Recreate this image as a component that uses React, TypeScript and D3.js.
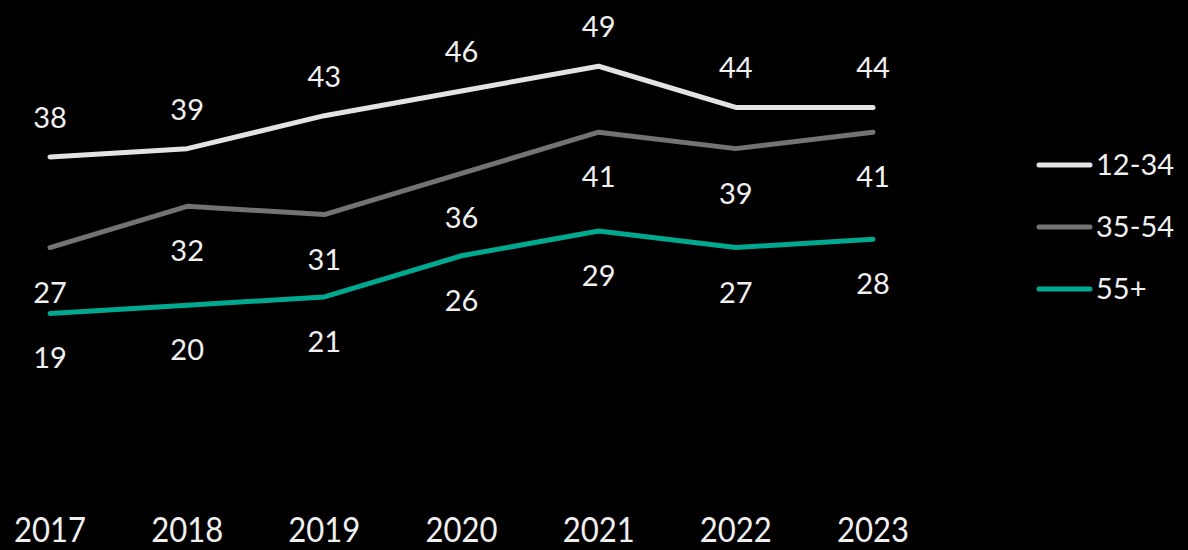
import { scalePoint, scaleLinear, line } from "d3";

const years = ["2017", "2018", "2019", "2020", "2021", "2022", "2023"];
const young = [38, 39, 43, 46, 49, 44, 44];
const middle = [27, 32, 31, 36, 41, 39, 41];
const older = [19, 20, 21, 26, 29, 27, 28];
const seriesNames = ["12-34", "35-54", "55+"];

const width = 1188;
const height = 550;
const font = "Lato, 'Open Sans', sans-serif";

const series = [
  { name: seriesNames[0], values: young, color: "#e3e3e3", dy: -29 },
  { name: seriesNames[1], values: middle, color: "#737373", dy: 55 },
  { name: seriesNames[2], values: older, color: "#00a890", dy: 55 },
];

const App = () => {
  const x = scalePoint().domain(years).range([50, 873]);
  const y = scaleLinear().domain([0, 50]).range([470, 58]);

  const path = line<number>()
    .x((_, i) => x(years[i])!)
    .y((d) => y(d));

  return (
    <svg
      width={width}
      height={height}
      style={{ position: "absolute", left: 0, top: 0, background: "#000" }}
    >
      <rect width={width} height={height} fill="#000" />
      {series.map((s) => (
        <g key={s.name}>
          <path
            d={path(s.values)!}
            fill="none"
            stroke={s.color}
            strokeWidth={5}
            strokeLinecap="round"
            strokeLinejoin="round"
          />
          {s.values.map((v, i) => (
            <text
              key={i}
              x={x(years[i])!}
              y={y(v) + s.dy}
              textAnchor="middle"
              fill="#f0f0f0"
              fontSize={29}
              fontFamily={font}
            >
              {v}
            </text>
          ))}
        </g>
      ))}

      {/* x axis labels */}
      {years.map((yr) => (
        <text
          key={yr}
          x={x(yr)!}
          y={542}
          textAnchor="middle"
          fill="#f0f0f0"
          fontSize={35}
          fontFamily={font}
          textLength={72}
          lengthAdjust="spacingAndGlyphs"
        >
          {yr}
        </text>
      ))}

      {/* legend */}
      {series.map((s, i) => {
        const ly = 165 + i * 62;
        return (
          <g key={s.name}>
            <line
              x1={1039}
              x2={1090}
              y1={ly}
              y2={ly}
              stroke={s.color}
              strokeWidth={5}
              strokeLinecap="round"
            />
            <text x={1096} y={ly + 10} fill="#f0f0f0" fontSize={29} fontFamily={font}>
              {s.name}
            </text>
          </g>
        );
      })}
    </svg>
  );
};

export default App;
